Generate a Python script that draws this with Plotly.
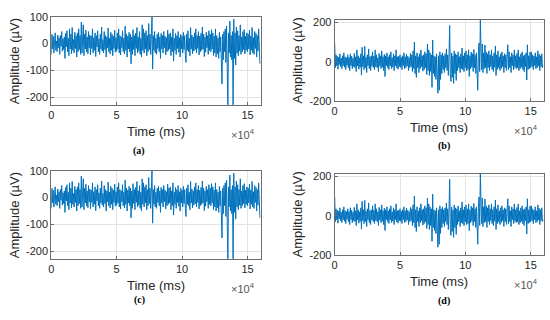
import plotly.graph_objects as go

# ---------------- data ----------------
step_ms = 500
x_tick_values = [0, 50000, 100000, 150000]
x_tick_labels = ["0", "5", "10", "15"]
y_ticks_ac = [-200, -100, 0, 100]
y_ticks_bd = [-200, 0, 200]
panel_labels = ["(a)", "(b)", "(c)", "(d)"]

signal_ac = [
    -40, 35, -20, 28, -35, 15, 40, -25, 10, -30, 32, -15, 22, -40, 30, -10, 45, -28, 18, -22,
    25, -55, 38, -12, 48, -30, 20, -45, 55, -20, 35, -38, 60, -25, 15, -35, 42, -18, 30, -50,
    40, -30, 55, -22, 30, -40, 80, -35, 20, 70, -45, 35, -20, 50, -30, 25, -38, 45, -15, 32,
    -42, 28, -18, 55, -35, 22, -25, 40, -48, 30, -12, 48, -30, 18, -40, 35, -20, 62, -28, 15,
    -35, 45, -22, 30, -50, 25, -15, 58, -30, 20, -38, 42, -25, 35, -45, 28, -18, 50, -32, 22,
    -28, 40, -20, 55, -35, 30, -42, 25, -15, 48, -30, 20, -38, 65, -25, 35, -50, 28, -20, 42,
    -30, 35, -75, 25, -40, 52, -22, 30, -45, 38, -18, 60, -35, 25, -28, 45, -40, 20, -50, 70,
    -25, 55, -35, 40, -20, 48, -45, 30, -30, 75, -22, 35, -40, 28, 100, -95, 30, -25, 45, -35,
    20, -40, 35, -18, 42, -30, 25, -55, 38, -20, 30, -35, 45, -15, 28, -42, 22, -30, 50, -25,
    35, -20, 40, -45, 25, -30, 55, -65, 20, -25, 38, -40, 30, -18, 45, -32, 22, -50, 35, -20,
    28, -35, 42, -22, 30, -40, -70, 35, -25, 48, -30, 20, -45, 60, -20, 32, -38, 25, -28, 40,
    -22, 55, -35, 30, -18, 45, -42, 28, -30, 38, -25, 62, -20, 35, -48, 25, -32, 42, -15, 30,
    -40, 48, -25, 35, -30, 52, -20, 40, -45, 28, -35, 55, -50, 30, -38, 20, -55, 42, -30, 25,
    -40, -150, 35, -60, 45, -30, 55, -70, 65, -45, -240, 40, -35, 84, -50, 30, -60, 45, -240, 91,
    -55, 40, -80, 62, -35, 48, -45, 30, -28, 70, -40, 25, -30, 45, -22, 52, -38, 28, -25, 40,
    -30, 35, -20, 50, -42, 28, -25, 60, -35, 22, -40, 45, -18, 38, -50, 30, -28, 55, -35, -75,
]

signal_bd = [
    95, -30, 35, -20, 28, -38, 22, -15, 40, -25, 18, -35, 30, -20, 45, -28, 25, -40, 20, -18,
    35, -30, 22, -45, 40, -20, 28, -35, 18, -25, 42, -30, 25, -50, 60, -22, 30, -38, 20, -28,
    40, -68, 73, -25, 30, -40, 78, -30, 22, -55, 35, -20, 65, -35, 25, -45, 30, -22, 50, -30,
    28, -40, 60, -25, 35, -30, 20, -50, 42, -22, 30, -35, 55, -28, 25, -45, 38, -75, 30, -20,
    45, -30, 25, -40, 35, -22, 50, -35, 20, -28, 40, -45, 30, -20, 60, -32, 25, -38, 28, -25,
    35, -28, 22, -40, 30, -20, 45, -35, 25, -30, 38, -22, 28, -45, 20, -30, 42, -25, 35, -50,
    55, -35, 100, -60, 30, -80, 45, -30, 25, -55, 40, -35, 60, -25, 30, -48, 35, -40, 50, -30,
    40, -65, 90, -45, 60, -70, 45, -50, 35, -130, 110, -60, 30, -75, 25, -90, 40, -80, -160, 30,
    -145, 50, -90, 35, -60, 45, -40, 30, -55, 40, -30, 65, -45, 35, -70, 28, 184, -60, -100, 45,
    -80, 30, -110, 55, -60, 40, -95, 35, -45, 50, -30, 25, -55, 40, -35, 70, -40, 30, -50, 45,
    -30, 55, -45, 35, -40, 60, -75, 30, -35, 48, -28, 40, -50, 62, -30, 35, -60, 45, -80, -145,
    40, 95, -50, 220, 60, -40, 90, -55, 45, -35, 85, -30, 50, -60, 40, -30, 55, -45, 35, -25,
    60, -40, 30, -50, 45, -28, 80, -70, 35, -40, 55, -30, 25, -45, 40, -35, 50, -25, 30, -55,
    40, -30, 35, -45, 28, 86, -40, 50, -30, 25, -55, 45, -20, 35, -40, 60, -28, 30, -35, 42,
    -30, 60, -45, 25, -35, 40, -28, 50, -40, 30, -50, 35, -25, 45, -93, 86, -40, 30, -35, 48,
    -30, 50, -25, 35, -40, 28, -20, 45, -35, 25, -30, 55, -22, 38, -45, 30, -25, 40, -30, -20,
]

time_ac = [i * step_ms for i in range(len(signal_ac))]
time_bd = [i * step_ms for i in range(len(signal_bd))]

# ---------------- layout helpers ----------------
W, H = 550, 320
BLUE = "#0072BD"
FONT = "Liberation Sans, Arial, sans-serif"
TICK_COLOR = "#262626"

def px_x(p):
    return p / W

def px_y(p):
    return 1 - p / H

# plot rectangles in pixels: (left, top, right, bottom)
rects = [
    (48.5, 11.2, 259.0, 102.7),
    (333.5, 14.5, 543.7, 98.8),
    (48.5, 171.2, 259.0, 262.7),
    (333.5, 174.5, 543.7, 258.8),
]
y_ranges = [[-228, 100], [-200, 212], [-228, 100], [-200, 212]]
y_ticks = [y_ticks_ac, y_ticks_bd, y_ticks_ac, y_ticks_bd]
signals = [(time_ac, signal_ac), (time_bd, signal_bd), (time_ac, signal_ac), (time_bd, signal_bd)]

fig = go.Figure()
annotations = []
layout = {}

for k in range(4):
    n = "" if k == 0 else str(k + 1)
    l, t, r, b = rects[k]
    xs, ys = signals[k]
    fig.add_trace(go.Scatter(
        x=xs, y=ys, mode="lines",
        line=dict(color=BLUE, width=1.0),
        xaxis="x" + n, yaxis="y" + n, showlegend=False, hoverinfo="skip",
    ))
    axis_common = dict(
        showline=True, mirror=True, linecolor="#6e6e6e", linewidth=1,
        showgrid=True, gridcolor="#e3e3e3", gridwidth=1,
        zeroline=False, ticks="inside", ticklen=3, tickcolor="#6e6e6e",
        tickfont=dict(family=FONT, size=11, color=TICK_COLOR),
    )
    layout["xaxis" + n] = dict(
        axis_common, domain=[px_x(l), px_x(r)], anchor="y" + n,
        range=[0, 160000], tickvals=x_tick_values, ticktext=x_tick_labels,
    )
    layout["yaxis" + n] = dict(
        axis_common, domain=[px_y(b), px_y(t)], anchor="x" + n,
        range=y_ranges[k], tickvals=y_ticks[k],
        ticktext=[str(v) for v in y_ticks[k]],
    )
    cx = (l + r) / 2
    # x axis title
    annotations.append(dict(
        x=px_x(cx), y=px_y(b + 27.5), xref="paper", yref="paper",
        text="Time (ms)", showarrow=False,
        font=dict(family=FONT, size=13, color=TICK_COLOR),
        xanchor="center", yanchor="middle",
    ))
    # exponent label
    annotations.append(dict(
        x=px_x(r - 4), y=px_y(b + 30.5), xref="paper", yref="paper",
        text="×10<sup>4</sup>", showarrow=False,
        font=dict(family=FONT, size=11, color="#555555"),
        xanchor="right", yanchor="middle",
    ))
    # y axis title
    annotations.append(dict(
        x=px_x(l - 37), y=px_y((t + b) / 2),
        xref="paper", yref="paper",
        text="Amplitude (µV)", showarrow=False, textangle=-90,
        font=dict(family=FONT, size=13, color=TICK_COLOR),
        xanchor="center", yanchor="middle",
    ))
    # panel caption
    cap_y = [150.5, 145.5, 305.5, 306.0][k]
    cap_x = [137, 443, 137, 443][k]
    annotations.append(dict(
        x=px_x(cap_x), y=px_y(cap_y), xref="paper", yref="paper",
        text="<b>" + panel_labels[k] + "</b>", showarrow=False,
        font=dict(family="Liberation Serif, Times New Roman, serif", size=10, color="#000000"),
        xanchor="center", yanchor="middle",
    ))

fig.update_layout(
    width=W, height=H, margin=dict(l=0, r=0, t=0, b=0),
    paper_bgcolor="white", plot_bgcolor="white",
    annotations=annotations, **layout,
)

fig.write_html(
    "out.html",
    config={"displayModeBar": False},
    post_script="document.body.style.margin='0';document.body.style.overflow='hidden';",
)
